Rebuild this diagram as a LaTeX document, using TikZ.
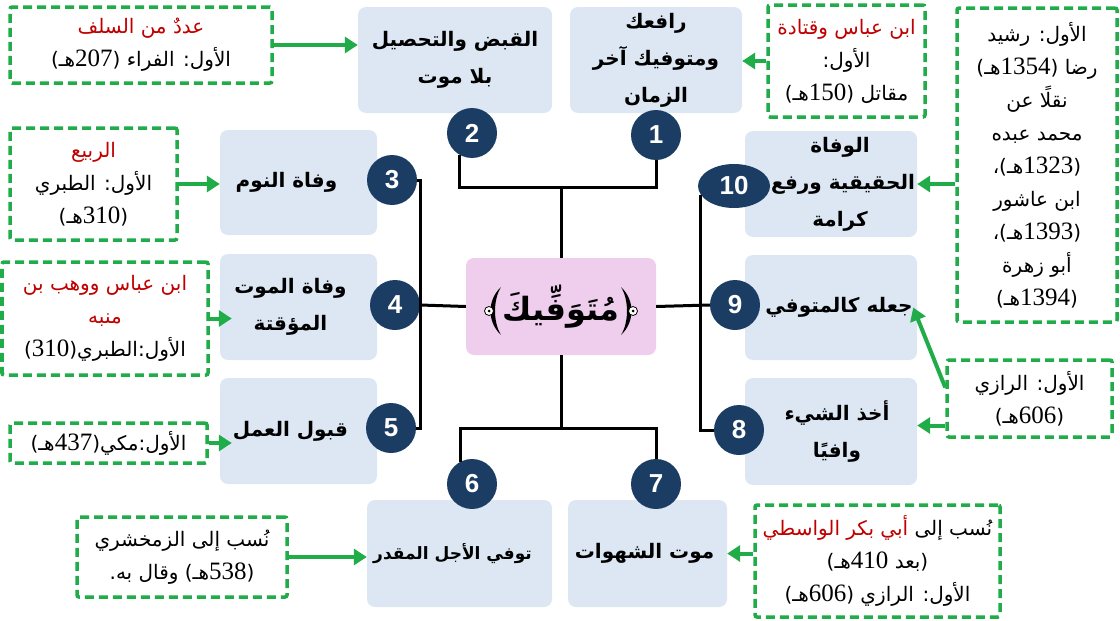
\documentclass[tikz,border=0pt]{standalone}
\usepackage{fontspec}
\usetikzlibrary{arrows.meta,shapes.geometric,calc}
\TeXXeTstate=1
\newfontfamily\arfont[Script=Arabic]{DejaVu Sans}
\newfontfamily\serifnum{Liberation Serif}
\newfontfamily\sansnum{Liberation Sans}
\definecolor{boxblue}{RGB}{220,231,243}
\definecolor{pinkc}{RGB}{239,206,237}
\definecolor{navy}{RGB}{27,61,99}
\definecolor{gr}{RGB}{32,172,72}
\definecolor{dred}{RGB}{192,0,0}
\newcommand\lbl[2]{\makebox[0pt]{\kern#1#2\kern-#1}}
\newcommand\nm[1]{\beginL{\serifnum\fontsize{25}{25}\selectfont #1}\endL}
\tikzset{
  lbox/.style={fill=boxblue, rounded corners=8pt, inner sep=0pt, align=center,
    font=\arfont\bfseries\fontsize{20}{37}\selectfont},
  num/.style={circle, fill=navy, text=white, inner sep=0pt, minimum size=50pt,
    font=\sansnum\bfseries\fontsize{26}{26}\selectfont},
  gbox/.style={draw=gr, line width=3.5pt, dash pattern=on 9pt off 5pt, fill=white,
    rounded corners=2pt, inner sep=0pt, align=center,
    font=\arfont\fontsize{20}{33}\selectfont},
  conn/.style={line width=3pt, black},
  garrow/.style={draw=gr, line width=4pt, -{Triangle[length=13pt,width=16pt]}},
}
\begin{document}
\begin{tikzpicture}[x=1pt,y=-1pt]
\useasboundingbox (0,0) rectangle (1120,621);
% main boxes
\node[lbox, minimum width=194pt, minimum height=106pt] (b2) at (455,60)
  {\lbl{0pt}{\beginR القبض والتحصيل\endR}\\\lbl{0pt}{\beginR بلا موت\endR}};
\node[lbox, minimum width=172pt, minimum height=106pt] (b1) at (656,60)
  {\lbl{0pt}{\beginR رافعك\endR}\\\lbl{0pt}{\beginR ومتوفيك آخر\endR}\\\lbl{0pt}{\beginR الزمان\endR}};
\node[lbox, minimum width=157pt, minimum height=105pt] (b3) at (298.5,182.5)
  {\lbl{-12pt}{\beginR وفاة النوم\endR}};
\node[lbox, minimum width=157pt, minimum height=106pt] (b4) at (298.5,307)
  {\lbl{-8pt}{\beginR وفاة الموت\endR}\\\lbl{-8pt}{\beginR المؤقتة\endR}};
\node[lbox, minimum width=157pt, minimum height=106pt] (b5) at (298.5,431)
  {\lbl{-8pt}{\beginR قبول العمل\endR}};
\node[lbox, minimum width=185pt, minimum height=107pt, font=\arfont\bfseries\fontsize{17}{37}\selectfont] (b6) at (459.5,553.5)
  {\lbl{-7pt}{\beginR توفي الأجل المقدر\endR}};
\node[lbox, minimum width=159pt, minimum height=107pt] (b7) at (647.5,553.5)
  {\lbl{-3pt}{\beginR موت الشهوات\endR}};
\node[lbox, minimum width=172pt, minimum height=106pt] (b10) at (831,184)
  {\lbl{9pt}{\beginR الوفاة\endR}\\\lbl{12pt}{\beginR الحقيقية ورفع\endR}\\\lbl{9pt}{\beginR كرامة\endR}};
\node[lbox, minimum width=172pt, minimum height=105pt] (b9) at (831,307.5)
  {\lbl{8pt}{\beginR جعله كالمتوفي\endR}};
\node[lbox, minimum width=172pt, minimum height=107pt] (b8) at (831,431.5)
  {\lbl{6pt}{\beginR أخذ الشيء\endR}\\\lbl{6pt}{\beginR وافيًا\endR}};
% centre
\node[fill=pinkc, rounded corners=8pt, minimum width=190pt, minimum height=97pt, inner sep=0pt,
  font=\arfont\bfseries\fontsize{32}{36}\selectfont] (ctr) at (561,306.5)
  {\beginR مُتَوَفِّيكَ\endR};
% ornate brackets (drawn: no installed font has them)
\fill (501,287) .. controls (487,300) and (487,322) .. (501,335) .. controls (493,322) and (493,300) .. (501,287);
\draw[line width=0.8pt, fill=white] (489,311) circle (4.5pt);
\fill (489,311) circle (1.5pt);
\fill (621,287) .. controls (635,300) and (635,322) .. (621,335) .. controls (629,322) and (629,300) .. (621,287);
\draw[line width=0.8pt, fill=white] (633,311) circle (4.5pt);
\fill (633,311) circle (1.5pt);
% numbered circles
\node[num] (c1) at (656,135) {1};
\node[num] (c2) at (472,133) {2};
\node[num] (c3) at (392,180) {3};
\node[num] (c4) at (395,305) {4};
\node[num] (c5) at (391,428) {5};
\node[num] (c6) at (472,484) {6};
\node[num] (c7) at (656,484) {7};
\node[num] (c8) at (739,430) {8};
\node[num] (c9) at (735,305) {9};
\node[num, ellipse, minimum width=72pt, minimum height=44pt] (c10) at (734,186) {10};
% connectors
\coordinate (tj) at (561,187);
\coordinate (lj) at (420,305);
\coordinate (bj) at (561,428);
\draw[conn] (c2.240) |- (tj) -| (c1.south);
\draw[conn] (tj) -- (ctr.north);
\draw[conn] (c3.east) -| (lj) |- (c5.east);
\draw[conn] (c4.east) -- (ctr.west);
\draw[conn] (c10.195) |- (c8.west);
\draw[conn] (ctr.east) -- (c9.west);
\draw[conn] (ctr.south) -- (bj);
\draw[conn] (c6.118) |- (bj) -| (c7.north);
% green boxes
\node[gbox, minimum width=262pt, minimum height=76pt] (g1) at (141,45)
  {\textcolor{dred}{\beginR عددٌ من السلف\endR}\\\beginR الأول: الفراء (\nm{207}هـ)\endR};
\node[gbox, minimum width=157pt, minimum height=112pt] (g2) at (846.5,61)
  {\textcolor{dred}{\beginR ابن عباس وقتادة\endR}\\\beginR الأول:\endR\\\beginR مقاتل (\nm{150}هـ)\endR};
\node[gbox, minimum width=160pt, minimum height=314pt] (g3) at (1037,165)
  {\beginR الأول: رشيد\endR\\\beginR رضا (\nm{1354}هـ)\endR\\\beginR نقلًا عن\endR\\\beginR محمد عبده\endR\\\beginR (\nm{1323}هـ)،\endR\\\beginR ابن عاشور\endR\\\beginR (\nm{1393}هـ)،\endR\\\beginR أبو زهرة\endR\\\beginR (\nm{1394}هـ)\endR};
\node[gbox, minimum width=167pt, minimum height=112pt] (g4) at (93.5,184)
  {\textcolor{dred}{\beginR الربيع\endR}\\\beginR الأول: الطبري\endR\\\beginR (\nm{310}هـ)\endR};
\node[gbox, minimum width=206pt, minimum height=113pt] (g5) at (105,318.5)
  {\textcolor{dred}{\beginR ابن عباس ووهب بن\endR}\\\textcolor{dred}{\beginR منبه\endR}\\\beginR الأول:الطبري(\nm{310})\endR};
\node[gbox, minimum width=197pt, minimum height=40pt] (g6) at (108.5,443)
  {\beginR الأول:مكي(\nm{437}هـ)\endR};
\node[gbox, minimum width=210pt, minimum height=80pt] (g7) at (182,557)
  {\beginR نُسب إلى الزمخشري\endR\\\beginR (\nm{538}هـ) وقال به.\endR};
\node[gbox, minimum width=245pt, minimum height=112pt] (g8) at (877.5,561)
  {\textcolor{dred}{\beginR أبي بكر الواسطي\endR}\ \beginR نُسب إلى\endR\\\beginR (بعد \nm{410}هـ)\endR\\\beginR الأول: الرازي (\nm{606}هـ)\endR};
\node[gbox, minimum width=165pt, minimum height=77pt] (g9) at (1029.5,398.5)
  {\beginR الأول: الرازي\endR\\\beginR (\nm{606}هـ)\endR};
% green arrows
\coordinate (g9a) at ([yshift=11pt]g9.west);
\coordinate (g9b) at ([yshift=-27pt]g9.west);
\draw[garrow] (g1.east) -- (g1.east -| b2.west);
\draw[garrow] (g2.west) -- (g2.west -| b1.east);
\draw[garrow] (g3.west |- b10.east) -- (b10.east);
\draw[garrow] (g4.east) -- (g4.east -| b3.west);
\draw[garrow] (g5.east) -- ([xshift=12pt]g5.east -| b4.west);
\draw[garrow] (g6.east) -- ([xshift=12pt]g6.east -| b5.west);
\draw[garrow] (g7.east) -- (g7.east -| b6.west);
\draw[garrow] (g8.west |- b7.east) -- (b7.east);
\draw[garrow] (g9a) -- ([xshift=-4pt]b9.east);
\draw[garrow] (g9b) -- (g9b -| b8.east);
\end{tikzpicture}
\end{document}
